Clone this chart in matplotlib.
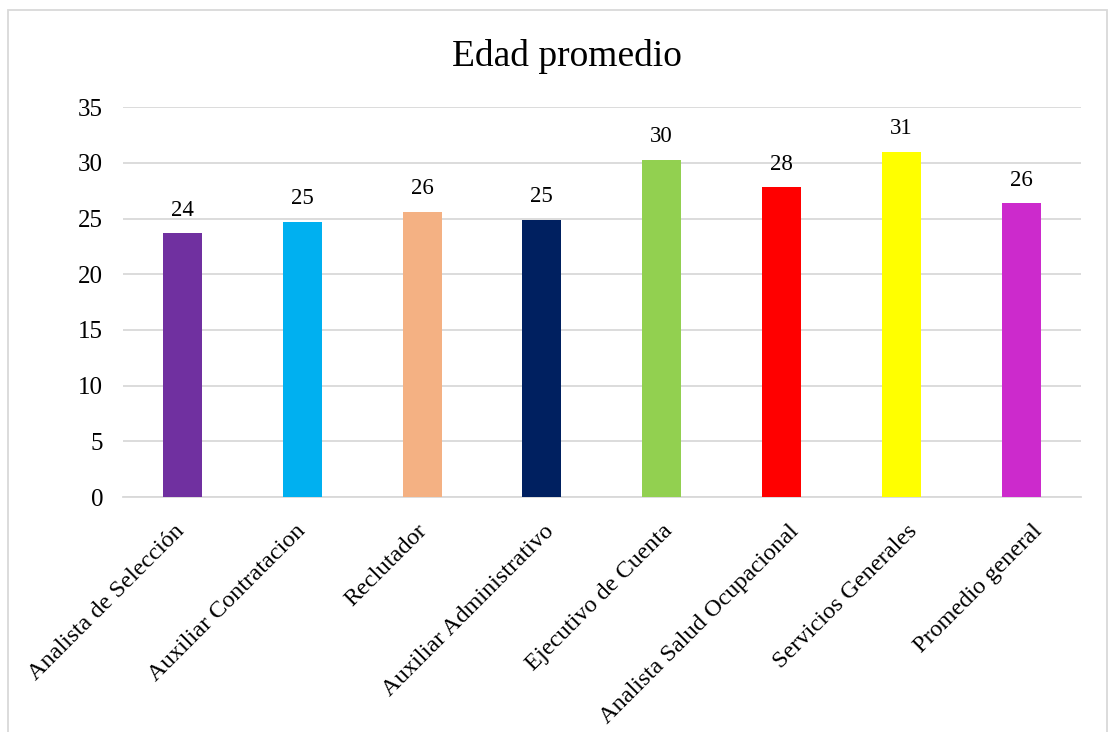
import matplotlib
matplotlib.use("Agg")
import matplotlib.pyplot as plt
from matplotlib.patches import Rectangle
from matplotlib.transforms import ScaledTranslation

plt.rcParams['font.family'] = ['Liberation Serif', 'DejaVu Serif']

# data
puestos = ["Analista de Selección", "Auxiliar Contratacion", "Reclutador",
           "Auxiliar Administrativo", "Ejecutivo de Cuenta",
           "Analista Salud Ocupacional", "Servicios Generales",
           "Promedio general"]
edades = [23.7, 24.7, 25.6, 24.9, 30.3, 27.8, 31.0, 26.4]
colores = ["#7030A0", "#00B0F0", "#F4B183", "#002060", "#92D050",
           "#FF0000", "#FFFF00", "#CC2ACC"]
yticks = [0, 5, 10, 15, 20, 25, 30, 35]

W, H = 1113, 732
fig = plt.figure(figsize=(W / 100, H / 100), dpi=100)
ax = fig.add_axes([122.5 / W, 1 - 497 / H, (1081 - 122.5) / W, (497 - 107.3) / H])

x = list(range(len(puestos)))
ax.bar(x, edades, width=0.325, color=colores, zorder=3)
for xi, v in zip(x, edades):
    ax.annotate(f"{v:.0f}", (xi, v), xytext=(0, 9), textcoords="offset points",
                ha="center", va="bottom", fontsize=16.5)

ax.set_xlim(-0.5, len(puestos) - 0.5)
ax.set_ylim(0, 35)
ax.set_yticks(yticks)
ax.yaxis.grid(True, color="#d9d9d9", linewidth=1.3, zorder=0)
ax.set_axisbelow(True)
for s in ["top", "right", "left"]:
    ax.spines[s].set_visible(False)
ax.spines["bottom"].set_color("#d9d9d9")
ax.spines["bottom"].set_linewidth(1.3)
ax.tick_params(axis="both", length=0)
ax.tick_params(axis="y", pad=14, labelsize=18)
ax.tick_params(axis="x", pad=17, labelsize=17.5)
ax.set_xticks(x)
ax.set_xticklabels(puestos, rotation=45, ha="right")
# Excel spreads the rotated labels a little wider than the bars
nudge_px = [6.5, 7.5, 9.5, 16.5, 15.5, 21.5, 20.5, 25.5]
for lab, dx in zip(ax.get_xticklabels(), nudge_px):
    lab.set_transform(lab.get_transform()
                      + ScaledTranslation(dx / 100, 0, fig.dpi_scale_trans))

fig.text(567 / W, 1 - 56 / H, "Edad promedio", ha="center", va="center",
         fontsize=27)

# chart frame (cut off at the bottom in the reference)
fig.patches.append(Rectangle((8 / W, -0.05), (1107 - 8) / W, 1.05 - 10 / H,
                             transform=fig.transFigure, fill=False,
                             edgecolor="#d9d9d9", linewidth=1.3))

fig.savefig("out.png", dpi=100)
